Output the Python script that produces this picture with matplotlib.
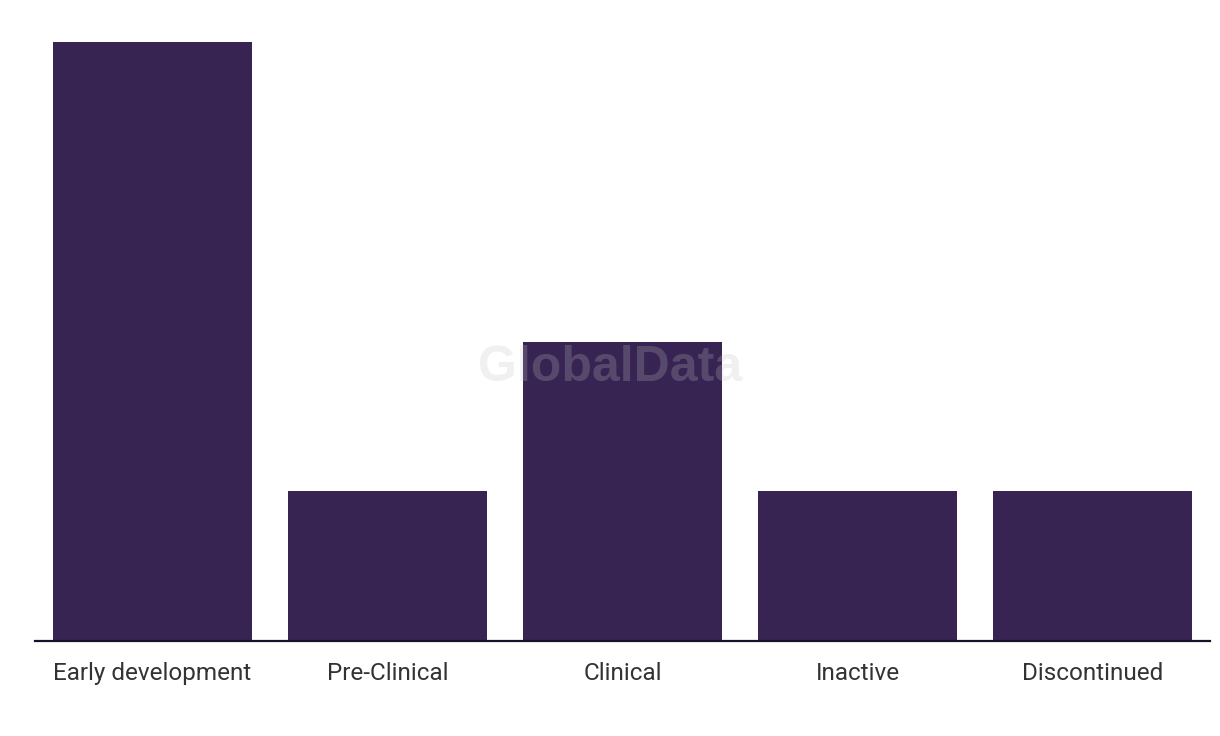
import matplotlib
matplotlib.use("Agg")
import matplotlib.pyplot as plt

# pipeline stage counts
stages = ["Early development", "Pre-Clinical", "Clinical", "Inactive", "Discontinued"]
counts = [4, 1, 2, 1, 1]

BAR_COLOR = "#372452"

fig = plt.figure(figsize=(12.2, 7.36), dpi=100)
ax = fig.add_axes([35 / 1220, 1 - 641 / 736, 1175 / 1220, 599 / 736])

ax.bar(range(len(stages)), counts, width=0.85, color=BAR_COLOR, zorder=2)
ax.set_xlim(-0.5, len(stages) - 0.5)
ax.set_ylim(0, max(counts))

for side in ["top", "right", "left"]:
    ax.spines[side].set_visible(False)
ax.spines["bottom"].set_color("#15132a")
ax.spines["bottom"].set_linewidth(1.6)
ax.set_yticks([])
ax.set_xticks(range(len(stages)))
ax.set_xticklabels(stages, fontsize=17.5, color="#333333", family="Roboto")
for lbl in ax.get_xticklabels():
    lbl.set_fontstretch("expanded")
ax.tick_params(axis="x", length=0, pad=15)

# watermark
fig.text(0.5, 0.5, "GlobalData", fontsize=36, fontweight="bold", color="#c1c1c1",
         alpha=0.24, ha="center", va="center", family="Liberation Sans", zorder=10)

fig.savefig("out.png", dpi=100, facecolor="white")
